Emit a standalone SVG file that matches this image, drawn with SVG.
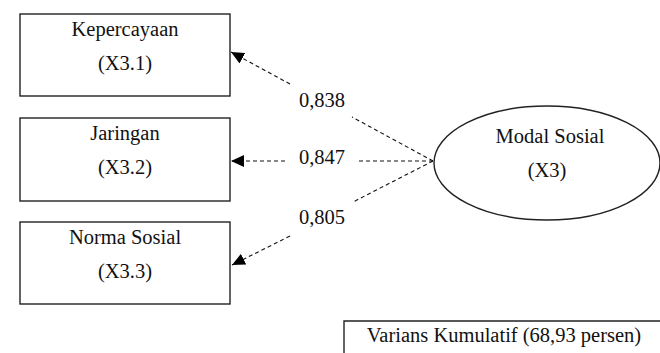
<svg xmlns="http://www.w3.org/2000/svg" width="660" height="353" viewBox="0 0 660 353">
<style>
.box{fill:#fff;stroke:#222;stroke-width:1.4}
.t{font-family:"Liberation Serif","Times New Roman",serif;font-size:20.5px;fill:#111;text-anchor:middle}
.c{stroke:#111;stroke-width:1.1;stroke-dasharray:4 3;fill:none}
</style>
<defs>
<marker id="ah" markerUnits="userSpaceOnUse" markerWidth="14" markerHeight="12" viewBox="0 0 14 12" refX="13" refY="6" orient="auto">
<path d="M0,0 L13,6 L0,12 Z" fill="#000"/>
</marker>
</defs>
<rect width="660" height="353" fill="#fff"/>
<g id="n1"><rect class="box" x="20" y="14" width="210" height="82"/><text class="t" x="125" y="36">Kepercayaan</text><text class="t" x="125" y="70">(X3.1)</text></g>
<g id="n2"><rect class="box" x="20" y="118" width="210" height="83"/><text class="t" x="125" y="140">Jaringan</text><text class="t" x="125" y="174">(X3.2)</text></g>
<g id="n3"><rect class="box" x="20" y="222" width="210" height="82"/><text class="t" x="125" y="244">Norma Sosial</text><text class="t" x="125" y="278">(X3.3)</text></g>
<g id="n4"><ellipse class="box" cx="547" cy="163" rx="113" ry="57"/><text class="t" x="550" y="143">Modal Sosial</text><text class="t" x="547" y="177">(X3)</text></g>
<g id="n5"><path d="M344,353 L344,321 L660,321" fill="none" stroke="#222" stroke-width="1.4"/><text class="t" x="504" y="342">Varians Kumulatif (68,93 persen)</text></g>
<g id="connectors">
<path class="c" d="M433,161 L352,117"/>
<path class="c" d="M290,84 L231,52" marker-end="url(#ah)"/>
<path class="c" d="M433,161 L358,161"/>
<path class="c" d="M285,161 L231,161" marker-end="url(#ah)"/>
<path class="c" d="M433,161 L353,202"/>
<path class="c" d="M290,236 L232,265" marker-end="url(#ah)"/>
<text class="t" x="322" y="107">0,838</text>
<text class="t" x="322" y="164">0,847</text>
<text class="t" x="322" y="224">0,805</text>
</g>
</svg>
